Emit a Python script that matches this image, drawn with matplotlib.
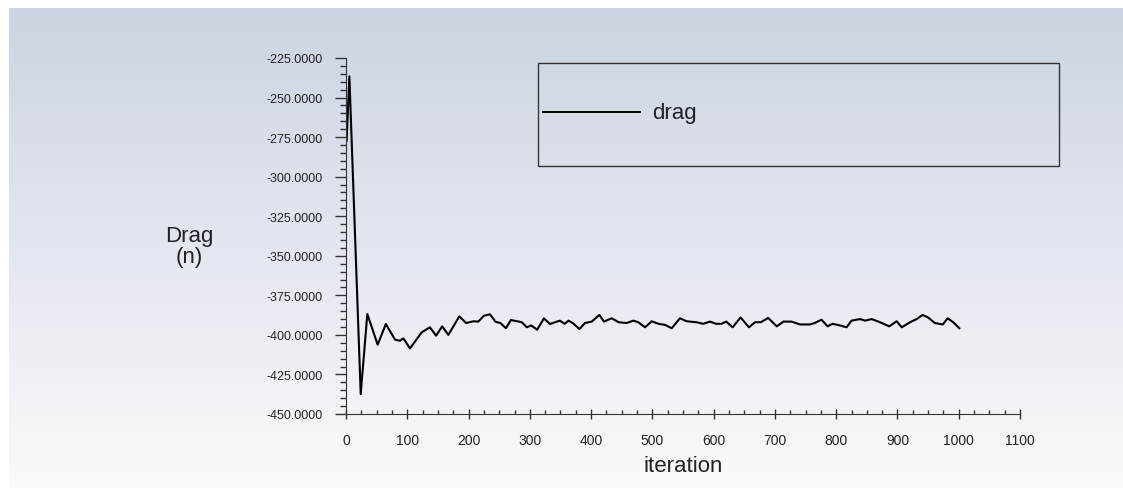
import numpy as np
import matplotlib.pyplot as plt
from matplotlib.lines import Line2D
from matplotlib.patches import Rectangle
from matplotlib.ticker import MultipleLocator, FormatStrFormatter

plt.rcParams['font.family'] = ['Liberation Sans', 'DejaVu Sans']

# data
iteration = [1, 5.5, 24, 34.8, 51.7, 65, 80, 88, 93.5, 104.5, 123.5, 137, 147, 157, 167,
             185, 196, 208, 216, 225, 235, 244, 252, 261, 269, 287, 295, 302, 312, 323,
             333, 349, 357, 363, 370, 381, 390, 401, 413.5, 421, 433.6, 445, 458, 469,
             477, 488, 499, 510, 521, 531.5, 545, 556, 572, 583, 594, 604, 612.6, 620.6,
             631, 644, 657.7, 667.6, 677, 689, 703, 714, 727, 741, 757, 765, 776, 786,
             794, 806, 817, 825, 839, 847, 858, 871.5, 886.6, 898.7, 907, 920.5, 931.4,
             941, 950, 961, 974, 982, 991, 1001]
drag = [-277.3, -236.6, -437.4, -386.8, -406.2, -393.1, -403, -403.7, -402.2, -408.5,
        -398.4, -395.2, -400.5, -394.6, -400, -388.3, -392.5, -391.4, -391.6, -387.9,
        -387, -391.7, -392.5, -395.8, -390.6, -392, -395.2, -394, -396.7, -389.6,
        -393.1, -391, -393, -391, -392.5, -396.3, -392.5, -391.6, -387.4, -391.6,
        -389.5, -392, -392.5, -391, -392, -395.2, -391.4, -393, -393.7, -395.8,
        -389.5, -391.4, -392, -393, -391.6, -393, -393, -391.6, -395.2, -389,
        -395.2, -392, -392, -389.3, -394.6, -391.6, -391.6, -393.4, -393.4, -392.5,
        -390.4, -394.6, -393, -394, -395.2, -391, -390, -391, -390, -392,
        -394.6, -391.4, -395.2, -392, -390, -387.4, -389, -392.5, -393.4, -389.5,
        -392, -395.8]

W, H = 1123, 489
fig = plt.figure(figsize=(W / 100, H / 100), dpi=100)

# gradient background
bg = fig.add_axes([9 / W, 0, 1 - 9 / W, 1 - 9 / H])
grad = np.linspace(0, 1, 256).reshape(-1, 1)
top = np.array([204, 211, 226]) / 255
bot = np.array([250, 250, 252]) / 255
img = top + (bot - top) * grad[:, :, None]
bg.imshow(img, aspect='auto', extent=[0, 1, 0, 1])
bg.axis('off')

ax = fig.add_axes([346 / W, 1 - 415 / H, (1020 - 346) / W, (415 - 59) / H])
ax.patch.set_alpha(0)
ax.plot(iteration, drag, color='black', linewidth=1.5)

ax.set_xlim(0, 1100)
ax.set_ylim(-450, -225)
ax.xaxis.set_major_locator(MultipleLocator(100))
ax.xaxis.set_minor_locator(MultipleLocator(25))
ax.yaxis.set_major_locator(MultipleLocator(25))
ax.yaxis.set_minor_locator(MultipleLocator(5))
ax.yaxis.set_major_formatter(FormatStrFormatter('%.4f'))
for s in ['top', 'right']:
    ax.spines[s].set_visible(False)
for s in ['left', 'bottom']:
    ax.spines[s].set_color('#333333')
ax.tick_params(axis='y', which='major', direction='out', length=8, width=1, color='#333333',
               labelsize=9, labelcolor='#222222', pad=9)
ax.tick_params(axis='y', which='minor', direction='out', length=4, width=1, color='#333333')
ax.tick_params(axis='x', which='major', direction='inout', length=7, width=1, color='#333333',
               labelsize=10, labelcolor='#222222', pad=10)
ax.tick_params(axis='x', which='minor', direction='in', length=3, width=1, color='#333333')

fig.text(683 / W, 1 - 467 / H, 'iteration', fontsize=16, ha='center', va='center', color='#222222')
fig.text(189 / W, 1 - 247 / H, 'Drag\n(n)', fontsize=16, ha='center', va='center',
         color='#222222', linespacing=1.0)

# legend box
fig.patches.append(Rectangle((538 / W, 1 - 167 / H), (1059 - 538) / W, (167 - 64) / H,
                             transform=fig.transFigure, fill=False, edgecolor='#333333', linewidth=1))
fig.lines.append(Line2D([543 / W, 640 / W], [1 - 113 / H, 1 - 113 / H], transform=fig.transFigure,
                        color='black', linewidth=1.4))
fig.text(652 / W, 1 - 113 / H, 'drag', fontsize=16, ha='left', va='center', color='#222222')

plt.savefig('out.png', dpi=100)
